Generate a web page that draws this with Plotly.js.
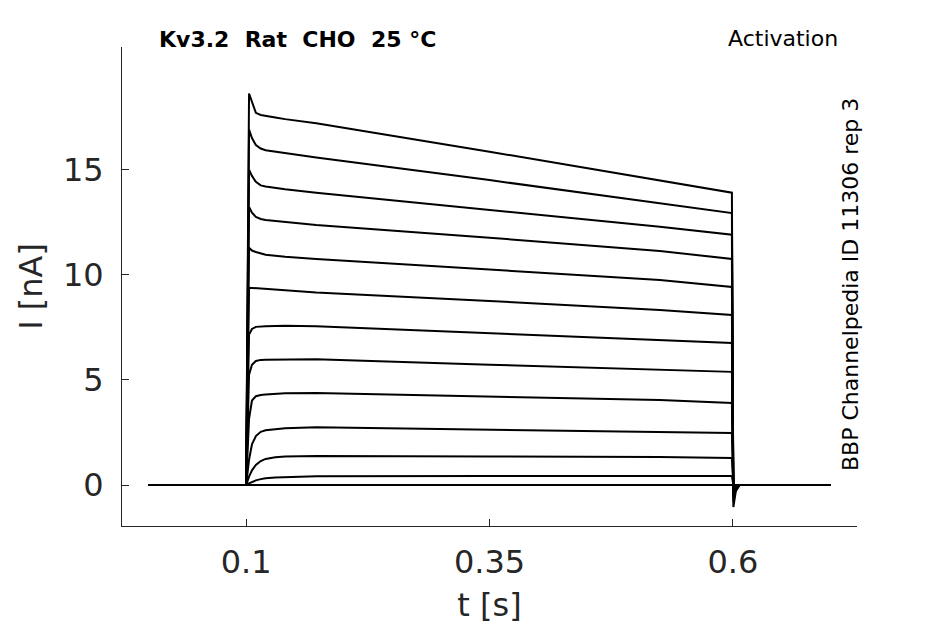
<!DOCTYPE html>
<html>
<head>
<meta charset="utf-8">
<script src="https://cdn.plot.ly/plotly-3.0.1.min.js"></script>
<style>html,body{margin:0;padding:0;background:#fff;}#chart{width:945px;height:624px;}</style>
</head>
<body>
<div id="chart"></div>
<script>
// time samples (s)
var timeS = [0, 0.1, 0.103, 0.106, 0.11, 0.115, 0.12, 0.13, 0.14, 0.172, 0.35, 0.525, 0.599, 0.6005, 0.603, 0.607, 0.7];
// current sweeps (nA), one per activation step
var sweep01 = [0, 0, 18.62, 18.2, 17.7, 17.6, 17.55, 17.48, 17.4, 17.2, 15.85, 14.5, 13.9, -1.05, -0.3, 0, 0];
var sweep02 = [0, 0, 16.9, 16.5, 16.17, 16.0, 15.92, 15.85, 15.78, 15.58, 14.5, 13.4, 12.93, -0.8, -0.2, 0, 0];
var sweep03 = [0, 0, 15.0, 14.7, 14.42, 14.25, 14.2, 14.13, 14.07, 13.9, 13.1, 12.28, 11.9, -0.6, -0.15, 0, 0];
var sweep04 = [0, 0, 13.22, 12.95, 12.75, 12.65, 12.6, 12.55, 12.5, 12.36, 11.76, 11.13, 10.75, -0.5, -0.12, 0, 0];
var sweep05 = [0, 0, 11.28, 11.15, 11.08, 11.0, 10.95, 10.9, 10.85, 10.75, 10.25, 9.75, 9.42, -0.4, -0.1, 0, 0];
var sweep06 = [0, 0, 9.38, 9.37, 9.35, 9.32, 9.3, 9.27, 9.24, 9.15, 8.75, 8.32, 8.09, -0.3, -0.08, 0, 0];
var sweep07 = [0, 0, 7.15, 7.42, 7.52, 7.54, 7.55, 7.56, 7.57, 7.55, 7.22, 6.9, 6.75, -0.25, -0.06, 0, 0];
var sweep08 = [0, 0, 5.25, 5.72, 5.9, 5.95, 5.96, 5.97, 5.98, 5.98, 5.72, 5.47, 5.38, -0.2, -0.05, 0, 0];
var sweep09 = [0, 0, 3.15, 4.02, 4.22, 4.28, 4.3, 4.33, 4.36, 4.38, 4.21, 4.04, 3.9, -0.15, -0.04, 0, 0];
var sweep10 = [0, 0, 1.2, 1.93, 2.33, 2.53, 2.6, 2.66, 2.7, 2.75, 2.64, 2.52, 2.47, -0.1, -0.03, 0, 0];
var sweep11 = [0, 0, 0.4, 0.7, 0.95, 1.14, 1.24, 1.32, 1.35, 1.38, 1.36, 1.33, 1.28, -0.05, 0, 0, 0];
var sweep12 = [0, 0, 0.08, 0.15, 0.22, 0.28, 0.32, 0.36, 0.38, 0.42, 0.43, 0.43, 0.43, 0, 0, 0, 0];
var sweepZero = [0, 0, 0, 0, 0, 0, 0, 0, 0, 0, 0, 0, 0, 0, 0, 0, 0];
var sweeps = [sweepZero, sweepZero, sweepZero, sweep12, sweep11, sweep10, sweep09, sweep08, sweep07, sweep06, sweep05, sweep04, sweep03, sweep02, sweep01];

var xTicks = [0.1, 0.35, 0.6];
var xTickText = ['0.1', '0.35', '0.6'];
var yTicks = [0, 5, 10, 15];
var yTickText = ['0', '5', '10', '15'];

var titleText = '<b>Kv3.2  Rat  CHO  25 °C</b>';
var protocolText = 'Activation';
var sourceText = 'BBP Channelpedia ID 11306 rep 3';

var L = 122, R = 88, T = 47, B = 98, Wd = 945, Ht = 624;
var pw = Wd - L - R, ph = Ht - T - B;
function px(xp) { return (xp - L) / pw; }
function py(yp) { return (Ht - B - yp) / ph; }

var traces = sweeps.map(function (s) {
  return {x: timeS, y: s, type: 'scatter', mode: 'lines',
          line: {color: '#000000', width: 2}, hoverinfo: 'skip', showlegend: false};
});

var axisFont = {family: 'DejaVu Sans, sans-serif', size: 32, color: '#262626'};
var layout = {
  width: Wd, height: Ht,
  margin: {l: L, r: R, t: T, b: B, pad: 0},
  paper_bgcolor: '#ffffff', plot_bgcolor: '#ffffff',
  font: {family: 'DejaVu Sans, sans-serif', color: '#262626'},
  xaxis: {
    range: [-0.0275, 0.7275], showgrid: false, zeroline: false,
    showline: true, linecolor: '#262626', linewidth: 1,
    ticks: 'inside', ticklen: 7, tickwidth: 1, tickcolor: '#262626',
    tickvals: xTicks, ticktext: xTickText, tickfont: axisFont,
    ticklabelstandoff: 8,
    title: {text: 't [s]', font: axisFont, standoff: 14}
  },
  yaxis: {
    range: [-1.95, 20.83], showgrid: false, zeroline: false,
    showline: true, linecolor: '#262626', linewidth: 1,
    ticks: 'inside', ticklen: 7, tickwidth: 1, tickcolor: '#262626',
    tickvals: yTicks, ticktext: yTickText, tickfont: axisFont,
    ticklabelstandoff: 11,
    title: {text: 'I [nA]', font: axisFont, standoff: 10}
  },
  annotations: [
    {text: titleText, xref: 'paper', yref: 'paper', x: px(157), y: py(40),
     xanchor: 'left', yanchor: 'middle', showarrow: false,
     font: {family: 'DejaVu Sans, sans-serif', size: 22, color: '#000000'}},
    {text: protocolText, xref: 'paper', yref: 'paper', x: px(840), y: py(39),
     xanchor: 'right', yanchor: 'middle', showarrow: false,
     font: {family: 'DejaVu Sans, sans-serif', size: 22, color: '#000000'}},
    {text: sourceText, xref: 'paper', yref: 'paper', x: px(850), y: py(285),
     xanchor: 'center', yanchor: 'middle', showarrow: false, textangle: -90,
     font: {family: 'DejaVu Sans, sans-serif', size: 22, color: '#000000'}}
  ]
};
Plotly.newPlot('chart', traces, layout, {staticPlot: true, displayModeBar: false});
</script>
</body>
</html>
